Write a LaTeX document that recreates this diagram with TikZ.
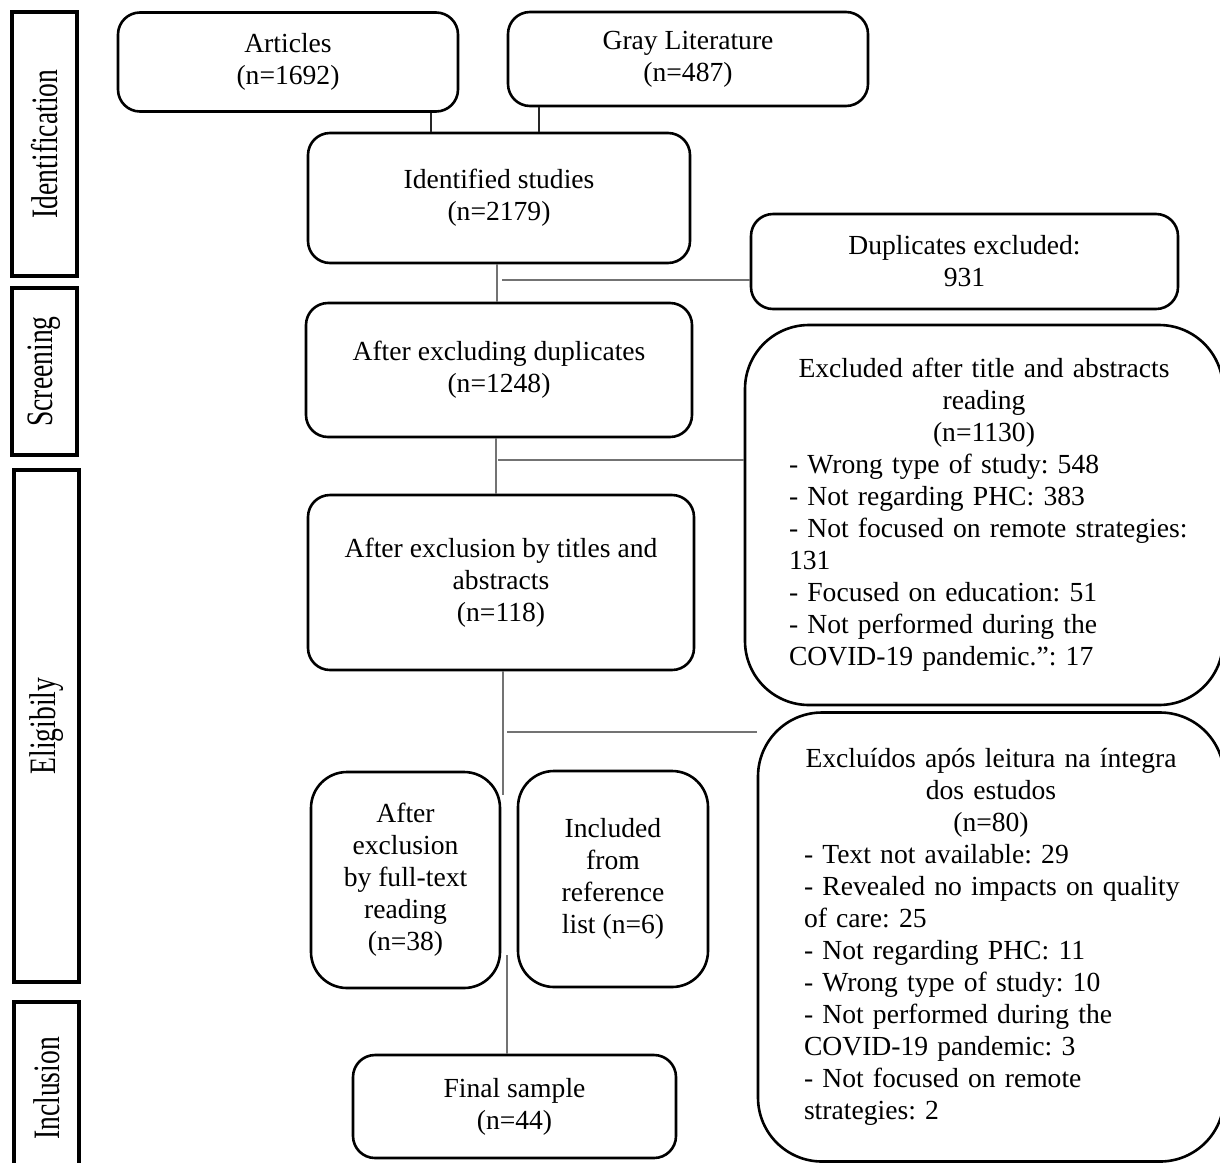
\documentclass[tikz,border=0pt]{standalone}
\usepackage{fontspec}
\setmainfont{Liberation Serif}
\usetikzlibrary{positioning}
\frenchspacing
\hyphenpenalty=10000
\exhyphenpenalty=10000

\begin{document}
\begin{tikzpicture}[x=0.5pt,y=-0.5pt,
    box/.style={draw, line width=1.3pt, rounded corners=11pt, align=center, inner sep=0pt,
        font=\fontsize{13.8}{16}\selectfont},
    bigbox/.style={box, rounded corners=32pt, align=left},
    stage/.style={draw, line width=1.6pt, inner sep=0pt, minimum width=32.5pt,
        font=\fontsize{13.8}{16}\selectfont},
    link/.style={line width=1pt, black!85},
    glink/.style={line width=1pt, black!55}]
    \useasboundingbox (0,0) rectangle (1220,1162);

    % Stages
    \node[stage, minimum height=132pt] (sid) at (44.5,144) {\rotatebox{90}{\scalebox{1}[1.35]{Identification}}};
    \node[stage, minimum height=83.5pt] (sscr) at (44.5,371.5) {\rotatebox{90}{\scalebox{1}[1.35]{Screening}}};
    \node[stage, minimum height=256pt] (selig) at (46.5,726) {\rotatebox{90}{\scalebox{1}[1.35]{Eligibily}}};
    \node[stage, minimum height=86.5pt] (sinc) at (46.5,1088.5) {\rotatebox{90}{\scalebox{1}[1.35]{Inclusion}}};

    % Main flow
    \node[box, minimum width=170pt, minimum height=49.5pt] (art) at (288,62) {Articles\\(n=1692)};
    \node[box, minimum width=180pt, minimum height=47pt] (gray) at (688,59) {Gray Literature\\(n=487)};
    \node[box, minimum width=191pt, minimum height=65pt] (ident) at (499,198) {Identified studies\\(n=2179)};
    \node[box, minimum width=213.5pt, minimum height=47.5pt] (dupx) at (964.5,261.5) {Duplicates excluded:\\931};
    \node[box, minimum width=193pt, minimum height=67pt] (nodup) at (499,370) {After excluding duplicates\\(n=1248)};
    \node[box, minimum width=193pt, minimum height=87.5pt] (titles) at (501,582.5) {After exclusion by titles and\\abstracts\\(n=118)};
    \node[box, rounded corners=18pt, minimum width=94.5pt, minimum height=108pt] (full) at (405.5,880) {After\\exclusion\\by full-text\\reading\\(n=38)};
    \node[box, rounded corners=18pt, minimum width=95pt, minimum height=108pt] (refl) at (613,879) {Included\\from\\reference\\list (n=6)};
    \node[box, minimum width=161.5pt, minimum height=51.5pt] (final) at (514.5,1106.5) {Final sample\\(n=44)};

    % Exclusions
    \node[bigbox, minimum width=239pt, minimum height=190pt, text width=195pt] (excl1) at (984,515)
        {{\centering Excluded after title and abstracts\\reading\\(n=1130)\par}
         - Wrong type of study: 548\\
         - Not regarding PHC: 383\\
         \mbox{- Not focused on remote strategies:}\\
         131\\
         - Focused on education: 51\\
         - Not performed during the\\
         COVID-19 pandemic.": 17};
    \node[bigbox, minimum width=233pt, minimum height=224.5pt, text width=187pt] (excl2) at (991,937)
        {{\centering Excluídos após leitura na íntegra\\dos estudos\\(n=80)\par}
         - Text not available: 29\\
         \mbox{- Revealed no impacts on quality}\\
         of care: 25\\
         - Not regarding PHC: 11\\
         - Wrong type of study: 10\\
         - Not performed during the\\
         COVID-19 pandemic: 3\\
         - Not focused on remote\\
         strategies: 2};

    % Connectors
    \draw[link] (art.south -| 431,0) -- (ident.north -| 431,0);
    \draw[link] (gray.south -| 539,0) -- (ident.north -| 539,0);

    \draw[glink] (ident.south -| 497,0) -- (nodup.north -| 497,0);
    \coordinate (j1) at (502,280);
    \draw[glink] (j1) -- (dupx.west |- j1);

    \draw[glink] (nodup.south -| 496,0) -- (titles.north -| 496,0);
    \coordinate (j2) at (498,460);
    \draw[glink] (j2) -- (excl1.west |- j2);

    \coordinate (j3) at (503,795);
    \draw[glink] (titles.south -| j3) -- (j3);
    \coordinate (j4) at (507,732);
    \draw[glink] (j4) -- (excl2.west |- j4);
    \coordinate (j5) at (507,955);
    \draw[glink] (j5) -- (final.north -| j5);
\end{tikzpicture}
\end{document}
